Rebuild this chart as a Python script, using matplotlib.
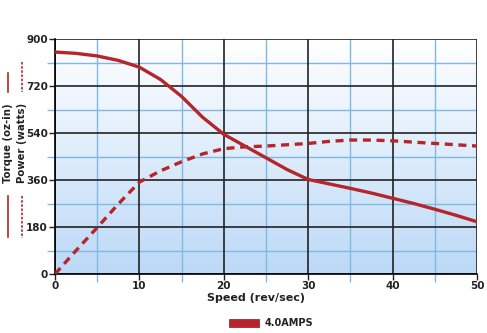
import numpy as np
import matplotlib
matplotlib.use('Agg')
import matplotlib.pyplot as plt
from matplotlib.lines import Line2D
from matplotlib.patches import Rectangle

speed = [0, 2.5, 5, 7.5, 10, 12.5, 15, 17.5, 20, 22.5, 25, 27.5, 30,
         32.5, 35, 37.5, 40, 42.5, 45, 47.5, 50]
torque = [850, 845, 835, 818, 792, 745, 680, 600, 535, 490, 445, 400, 362,
          345, 328, 310, 290, 270, 248, 225, 200]
power = [0, 90, 178, 268, 352, 395, 430, 460, 480, 487, 490, 495, 500,
         508, 513, 513, 510, 505, 500, 495, 490]
xticks = [0, 10, 20, 30, 40, 50]
yticks = [0, 180, 360, 540, 720, 900]
xminor = [5, 15, 25, 35, 45]
yminor = [90, 270, 450, 630, 810]
red = '#b5252a'

fig = plt.figure(figsize=(4.87, 3.33), dpi=100)
ax = fig.add_axes([55/487, 1-274/333, 422/487, 235/333])

# background gradient white -> light blue
grad = np.linspace(0, 1, 256).reshape(-1, 1)
cmap = matplotlib.colors.LinearSegmentedColormap.from_list('bg', ['#bcd9f7', '#ffffff'])
ax.imshow(grad, extent=[0, 50, 0, 900], origin='lower', aspect='auto', cmap=cmap, zorder=0)

# minor grid
for x in xminor:
    ax.axvline(x, color='#7fb8e0', lw=1, zorder=1)
for y in yminor:
    ax.axhline(y, color='#7fb8e0', lw=1, zorder=1)
# major grid
for x in xticks:
    ax.axvline(x, color='#222222', lw=1.2, zorder=2)
for y in yticks:
    ax.axhline(y, color='#222222', lw=1.2, zorder=2)

ax.plot(speed, torque, color=red, lw=2.4, zorder=4, solid_capstyle='round')
ax.plot(speed, power, color=red, lw=2.4, zorder=4, dashes=(2.4, 1.7))

ax.set_xlim(0, 50)
ax.set_ylim(0, 900)
ax.set_xticks(xticks)
ax.set_yticks(yticks)
ax.set_xticks(xminor, minor=True)
ax.set_yticks(yminor, minor=True)
ax.tick_params(which='major', labelsize=7.5, length=4, width=1, colors='#222222', pad=1)
ax.tick_params(which='minor', length=6, width=1, colors='#7fb8e0')
for lab in ax.get_xticklabels() + ax.get_yticklabels():
    lab.set_fontweight('bold')
for s in ax.spines.values():
    s.set_visible(False)
ax.spines['left'].set_visible(True)
ax.spines['bottom'].set_visible(True)
ax.spines['left'].set_linewidth(1.2)
ax.spines['bottom'].set_linewidth(1.2)

fig.text(0.5 + 12/487, 1-298/333, 'Speed (rev/sec)', ha='center', va='center',
         fontsize=8, fontweight='bold', color='#222222')

# y-axis labels with line samples
fig.text(8/487, 1-143/333, 'Torque (oz-in)', rotation=90, ha='center', va='center',
         fontsize=7.3, fontweight='bold', color='#222222')
fig.text(22/487, 1-143/333, 'Power (watts)', rotation=90, ha='center', va='center',
         fontsize=7.3, fontweight='bold', color='#222222')
for (y0, y1) in [(73, 92), (196, 237)]:
    fig.add_artist(Line2D([8/487, 8/487], [1-y0/333, 1-y1/333], color=red, lw=1.2))
for (y0, y1) in [(62, 92), (196, 238)]:
    fig.add_artist(Line2D([22/487, 22/487], [1-y0/333, 1-y1/333], color=red, lw=1.2,
                          dashes=(1.5, 1)))

# legend
fig.add_artist(Rectangle((229/487, 1-327/333), 30/487, 8/333, facecolor=red,
                         edgecolor='#8a1a1a', lw=0.5))
fig.text(265/487, 1-323/333, '4.0AMPS', ha='left', va='center', fontsize=7,
         fontweight='bold', color='#222222')

fig.savefig('out.png', dpi=100)
